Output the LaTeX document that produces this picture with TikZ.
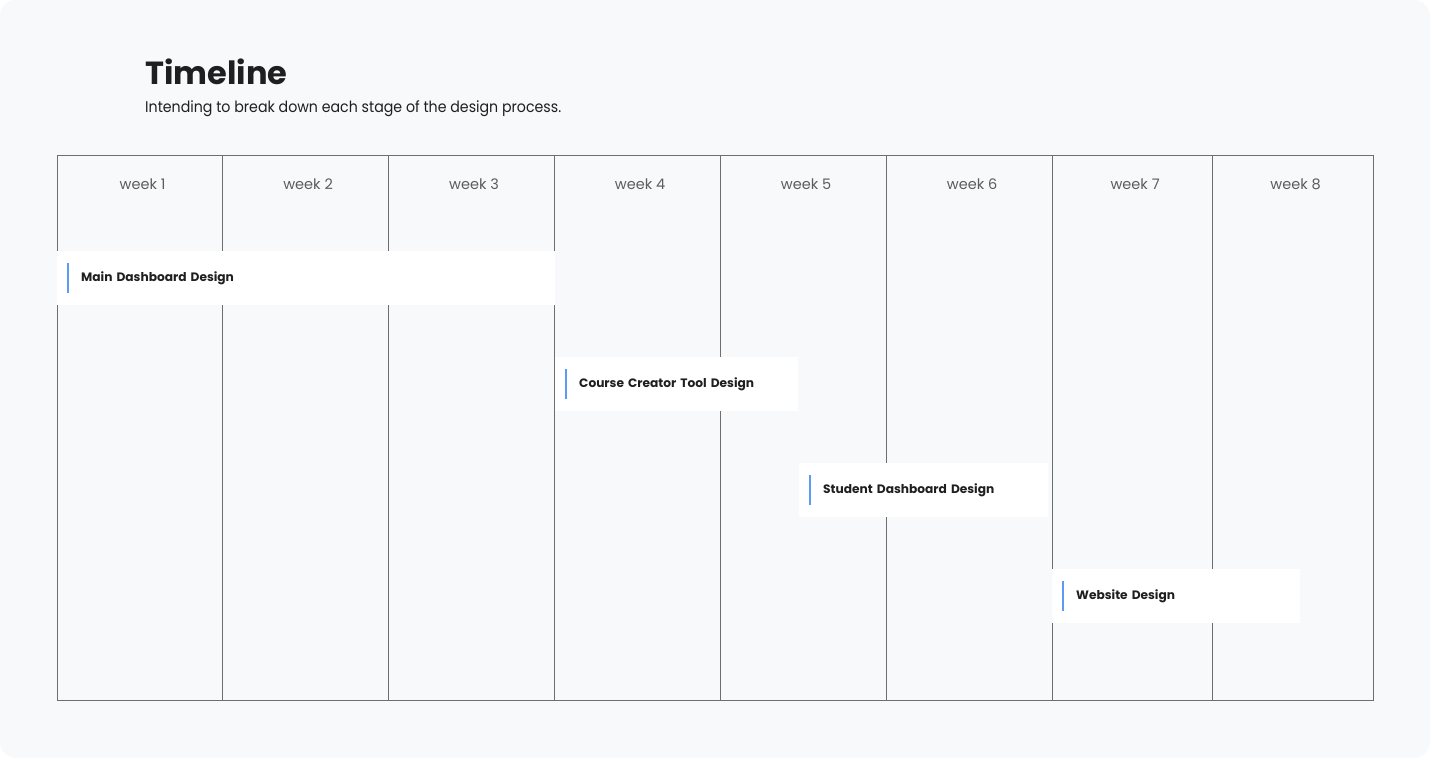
\documentclass[tikz,border=0pt]{standalone}
\usepackage{fontspec}
\setmainfont{Poppins}
\newfontfamily\subfont[FakeStretch=0.915]{Poppins}
\usetikzlibrary{
    positioning % For relative placement of the labels
}
\definecolor{pagebg}{HTML}{F8F9FB}
\definecolor{gridline}{HTML}{6E6E6E}
\definecolor{accent}{HTML}{5B9BF6}
\definecolor{inkdark}{HTML}{1F1F1F}
\definecolor{weekgray}{HTML}{5C5C5C}

\begin{document}
\begin{tikzpicture}[
    x=1pt, y=-1pt,
    % Define styles
    weekcol/.style={rectangle, draw=gridline, line width=1.2pt, anchor=north west, minimum height=545pt, inner sep=0pt}, % One week column
    weeklabel/.style={font=\fontsize{14.5}{16}\selectfont, text=weekgray, xshift=2.5pt}, % Week heading
    task/.style={rectangle, fill=white, anchor=west, minimum height=54pt, inner xsep=24pt, align=left, font=\bfseries\fontsize{12.2}{14}\selectfont, text=inkdark}, % Task bar
    marker/.style={draw=accent, line width=2pt} % Blue marker left of a task
]

% ----- BACKGROUND -----
\useasboundingbox (0,0) rectangle (1430,758);
\fill[pagebg, rounded corners=16pt] (0,0) rectangle (1430,758);

% ----- HEADER -----
\node (title) [anchor=base west, inner sep=0pt, font=\bfseries\fontsize{32}{38}\selectfont, text=inkdark] at (145,84) {Timeline};
\node (subtitle) [anchor=base west, inner sep=0pt, font=\subfont\fontsize{15.5}{18}\selectfont, text=inkdark] at (145,112) {Intending to break down each stage of the design process.};

% ----- WEEK COLUMNS -----
\node (col1) [weekcol, minimum width=165pt] at (57,155) {};
\node (col2) [weekcol, minimum width=166pt] at (222,155) {};
\node (col3) [weekcol, minimum width=166pt] at (388,155) {};
\node (col4) [weekcol, minimum width=166pt] at (554,155) {};
\node (col5) [weekcol, minimum width=166pt] at (720,155) {};
\node (col6) [weekcol, minimum width=166pt] at (886,155) {};
\node (col7) [weekcol, minimum width=160pt] at (1052,155) {};
\node (col8) [weekcol, minimum width=161pt] at (1212,155) {};

\node (wk1) [weeklabel, below=20pt of col1.north] {week 1};
\node (wk2) [weeklabel, below=20pt of col2.north] {week 2};
\node (wk3) [weeklabel, below=20pt of col3.north] {week 3};
\node (wk4) [weeklabel, below=20pt of col4.north] {week 4};
\node (wk5) [weeklabel, below=20pt of col5.north] {week 5};
\node (wk6) [weeklabel, below=20pt of col6.north] {week 6};
\node (wk7) [weeklabel, below=20pt of col7.north] {week 7};
\node (wk8) [weeklabel, below=20pt of col8.north] {week 8};

% ----- TASKS -----
\node (t_main)    [task, text width=450pt] at (57,278) {Main Dashboard Design};
\node (t_course)  [task, text width=195pt] at (555,384) {Course Creator Tool Design};
\node (t_student) [task, text width=201pt] at (799,490) {Student Dashboard Design};
\node (t_web)     [task, text width=200pt] at (1052,596) {Website Design};

% Blue markers
\draw [marker] ([xshift=11pt, yshift=15pt]t_main.west) -- ([xshift=11pt, yshift=-15pt]t_main.west);
\draw [marker] ([xshift=11pt, yshift=15pt]t_course.west) -- ([xshift=11pt, yshift=-15pt]t_course.west);
\draw [marker] ([xshift=11pt, yshift=15pt]t_student.west) -- ([xshift=11pt, yshift=-15pt]t_student.west);
\draw [marker] ([xshift=11pt, yshift=15pt]t_web.west) -- ([xshift=11pt, yshift=-15pt]t_web.west);

\end{tikzpicture}
\end{document}
